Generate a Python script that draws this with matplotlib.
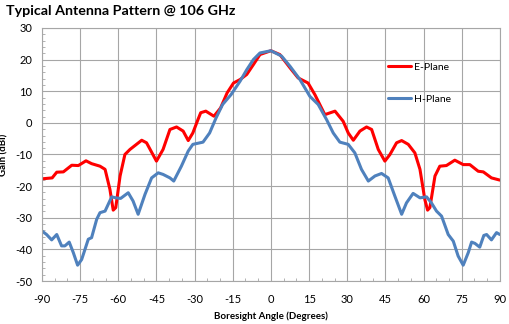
import numpy as np
import matplotlib.pyplot as plt
from matplotlib.ticker import MultipleLocator

plt.rcParams['font.family'] = ['Lato', 'DejaVu Sans']
plt.rcParams['axes.unicode_minus'] = False

e_angle = [-90, -86, -84.2, -81.6, -78.3, -75.7, -72.7, -70.5, -67.2, -65.2, -63.3, -62, -61,
           -59.3, -57.4, -55.4, -50.8, -48.9, -45, -42.4, -39.7, -37.1, -34.5, -32.5, -30.7,
           -28.7, -27.6, -25.6, -22.4, -19.8, -17.2, -14.7, -12.1, -9.5, -6.9, -4.3, 0,
           3.5, 7.5, 10.7, 14.6, 17.3, 21.2, 25.2, 28.4, 30.4, 32.4, 35, 37.6, 39.6, 42.2,
           44.8, 46.8, 49.4, 51.4, 54, 56.6, 58.6, 60.5, 61.6, 62.5, 64.5, 66.4, 69, 72.3,
           75.6, 78.2, 81.5, 83.5, 86.7, 90]
e_gain = [-17.7, -17.4, -15.6, -15.5, -13.4, -13.5, -12.0, -12.9, -13.7, -14.7, -21, -27.6, -26.8,
          -16.8, -10, -8.4, -5.5, -6.3, -12.1, -8.4, -2.1, -1.3, -2.6, -5.6, -3.2,
          1.0, 3.2, 3.7, 2.1, 4.7, 9.5, 12.6, 13.7, 15.3, 18.4, 21.6, 22.8,
          21.6, 17.4, 14.2, 12.6, 8.9, 2.6, 3.7, 0.5, -3.2, -5.5, -2.6, -1.3, -2.1, -8.4,
          -12.1, -10, -6.3, -5.6, -6.8, -9.5, -14.7, -24.2, -27.6, -26.8, -16.8, -13.7, -13.5, -11.8,
          -13.2, -13.2, -15.3, -15.5, -17.4, -18.1]

h_angle = [-90, -88.2, -86.2, -84.2, -82.3, -81, -79.3, -77.7, -76, -74.4, -71.8, -70.5, -68.5,
           -67.2, -65.2, -62.6, -61, -59.1, -56.1, -54.2, -52.2, -49.5, -46.9, -44.3, -42.4,
           -39.7, -38.2, -35.2, -32.5, -30.7, -26.7, -24.1, -21.6, -19, -15.7, -12.1, -9.5,
           -6.9, -4.3, 0, 4.2, 7.5, 11.4, 15.3, 18.6, 21.9, 24.5, 27.1, 30.4, 33, 35.6, 38.3,
           40.9, 43.5, 46.1, 48.7, 51.4, 53.3, 55.9, 58.6, 61.2, 63.1, 65.1, 67.1, 69.7, 71.7,
           73.6, 75.6, 77.6, 78.9, 80.2, 82.1, 83.7, 84.8, 86.7, 88.7, 90]
h_gain = [-34.2, -35.3, -37, -35.3, -38.9, -38.9, -37.7, -41, -45, -43.2, -36.8, -36.3, -30.5,
          -28.4, -27.9, -23.4, -23.7, -23.9, -22.1, -24.7, -28.9, -22.6, -17.4, -15.8, -16.3,
          -17.4, -18.4, -13.7, -8.9, -6.8, -6.1, -3.2, 1.5, 5.8, 8.9, 13.2, 16.8,
          20, 22.1, 22.8, 21.1, 17.9, 13.7, 8.4, 5.8, 1.0, -3.2, -6.1, -6.8, -9.5, -14.7, -18.4,
          -16.8, -16, -17.4, -23.1, -28.9, -25.3, -22.3, -23.7, -23.4, -25.3, -27.9, -29.5, -35.3, -37.4,
          -42.1, -45, -41, -37.7, -38.1, -39.3, -35.6, -35.3, -37, -34.7, -35.3]

fig = plt.figure(figsize=(5.09, 3.24), dpi=100)
ax = fig.add_axes([0.0825, 0.1327, 0.8995, 0.781])

ax.plot(e_angle, e_gain, color='#ff0000', lw=2.2, label='E-Plane',
        solid_joinstyle='round', solid_capstyle='round')
ax.plot(h_angle, h_gain, color='#4f81bd', lw=2.2, label='H-Plane',
        solid_joinstyle='round', solid_capstyle='round')

ax.set_xlim(-90, 90)
ax.set_ylim(-50, 30)
ax.xaxis.set_major_locator(MultipleLocator(15))
ax.yaxis.set_major_locator(MultipleLocator(10))
ax.xaxis.set_minor_locator(MultipleLocator(5))
ax.yaxis.set_minor_locator(MultipleLocator(2))
ax.grid(True, which='major', color='#a6a6a6', lw=0.8)
ax.tick_params(which='major', length=0, labelsize=8)
ax.tick_params(axis='x', which='major', pad=9)
ax.tick_params(axis='y', which='major', pad=7)
ax.tick_params(which='minor', direction='in', length=2, color='#a6a6a6')
for s in ax.spines.values():
    s.set_color('#a6a6a6')
    s.set_linewidth(0.8)

ax.set_xlabel('Boresight Angle (Degrees)', fontsize=7, fontweight='bold', labelpad=5)
ax.set_ylabel('Gain (dBi)', fontsize=7, fontweight='bold', labelpad=5)
fig.text(0.012, 0.965, 'Typical Antenna Pattern @ 106 GHz', fontsize=10.3, fontweight='bold',
         va='center', ha='left')

ax.legend(loc='upper left', bbox_to_anchor=(0.735, 0.9), frameon=False, fontsize=7.5,
          handlelength=2.2, labelspacing=2.2, handletextpad=0.3)

fig.savefig('out.png', dpi=100)
